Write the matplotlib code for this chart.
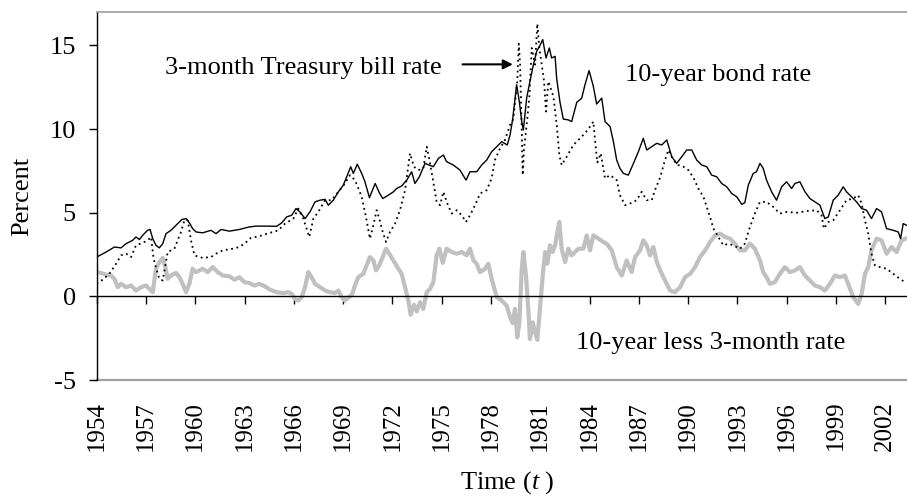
import matplotlib
matplotlib.use("Agg")
import matplotlib.pyplot as plt
import matplotlib.transforms as mtransforms

plt.rcParams["font.family"] = ["Liberation Serif", "DejaVu Serif"]
plt.rcParams["mathtext.fontset"] = "custom"
plt.rcParams["mathtext.rm"] = "Liberation Serif"
plt.rcParams["mathtext.it"] = "Liberation Serif:italic"

# ---- data (x = position on the time axis) ----
bond_year = [1954.0, 1954.57, 1955.08, 1955.48, 1955.79, 1956.19, 1956.39, 1956.6, 1956.8, 1957.1,
             1957.25, 1957.41, 1957.61, 1957.81, 1958.02, 1958.22, 1958.52, 1958.83, 1959.19, 1959.44,
             1959.64, 1959.84, 1960.05, 1960.45, 1960.96, 1961.26, 1961.57, 1962.08, 1962.68, 1963.29,
             1963.7, 1964.31, 1964.95, 1965.26, 1965.56, 1965.87, 1966.13, 1966.37, 1966.68, 1966.98,
             1967.29, 1967.59, 1967.9, 1968.1, 1968.4, 1968.71, 1969.01, 1969.26, 1969.46, 1969.62,
             1969.86, 1970.13, 1970.33, 1970.6, 1970.95, 1971.2, 1971.41, 1971.75, 1972.06, 1972.26,
             1972.56, 1972.87, 1973.17, 1973.37, 1973.64, 1973.98, 1974.49, 1974.8, 1975.1, 1975.3,
             1975.71, 1976.11, 1976.48, 1976.72, 1977.13, 1977.43, 1977.74, 1978.04, 1978.35, 1978.65,
             1978.99, 1979.16, 1979.32, 1979.56, 1979.73, 1979.87, 1979.97, 1980.17, 1980.37, 1980.58,
             1980.78, 1980.98, 1981.15, 1981.35, 1981.55, 1981.69, 1981.9, 1982.0, 1982.2, 1982.4,
             1982.71, 1982.91, 1983.22, 1983.52, 1983.72, 1983.97, 1984.23, 1984.43, 1984.74, 1984.94,
             1985.25, 1985.45, 1985.65, 1985.85, 1986.06, 1986.36, 1986.67, 1986.97, 1987.27, 1987.48,
             1987.78, 1988.09, 1988.39, 1988.7, 1989.0, 1989.3, 1989.61, 1989.91, 1990.22, 1990.52,
             1990.83, 1991.13, 1991.43, 1991.74, 1992.04, 1992.35, 1992.65, 1992.96, 1993.26, 1993.45,
             1993.66, 1993.96, 1994.16, 1994.37, 1994.57, 1994.77, 1995.08, 1995.38, 1995.69, 1995.99,
             1996.3, 1996.5, 1996.8, 1997.11, 1997.41, 1997.71, 1998.02, 1998.32, 1998.53, 1998.83,
             1999.13, 1999.44, 1999.64, 1999.95, 2000.25, 2000.56, 2000.86, 2001.16, 2001.47, 2001.77,
             2002.08, 2002.48, 2002.79, 2002.93, 2003.09, 2003.29]
bond = [2.35, 2.65, 2.95, 2.9, 3.15, 3.35, 3.55, 3.4, 3.65, 3.95,
        4.0, 3.45, 3.05, 2.9, 3.15, 3.75, 3.95, 4.25, 4.6, 4.65,
        4.4, 4.05, 3.85, 3.8, 3.95, 3.75, 4.0, 3.9, 4.0, 4.15,
        4.2, 4.2, 4.19, 4.39, 4.75, 4.85, 5.25, 5.05, 4.65, 5.05,
        5.65, 5.75, 5.8, 5.45, 5.75, 6.25, 6.65, 7.25, 7.75, 7.35,
        7.9, 7.35, 6.85, 5.9, 6.75, 6.2, 5.85, 6.05, 6.25, 6.45,
        6.6, 6.95, 7.45, 6.75, 7.15, 7.95, 7.75, 8.25, 8.45, 8.05,
        7.85, 7.55, 6.95, 7.45, 7.45, 7.85, 8.15, 8.65, 8.95, 9.25,
        9.05, 9.65, 10.6, 12.65, 11.6, 10.45, 9.95, 11.85, 12.85, 13.85,
        14.65, 15.0, 15.35, 14.25, 14.85, 14.25, 14.35, 13.0, 11.6, 10.6,
        10.55, 10.45, 11.6, 11.85, 12.65, 13.5, 12.55, 11.5, 11.85, 10.45,
        10.15, 9.25, 8.15, 7.65, 7.35, 7.25, 7.95, 8.65, 9.45, 8.75,
        8.95, 9.15, 9.05, 9.35, 8.35, 7.95, 8.35, 8.75, 8.75, 8.15,
        7.85, 7.75, 7.25, 7.15, 6.75, 6.55, 6.15, 5.95, 5.5, 5.6,
        6.65, 7.35, 7.45, 7.95, 7.65, 6.95, 6.25, 5.75, 6.55, 6.85,
        6.45, 6.75, 6.85, 6.25, 5.85, 5.65, 5.45, 4.65, 4.75, 5.75,
        6.05, 6.55, 6.25, 5.95, 5.65, 5.25, 5.15, 4.65, 5.25, 5.05,
        4.05, 3.95, 3.85, 3.45, 4.35, 4.25]

bill_year = [1954.0, 1954.37, 1954.77, 1955.18, 1955.48, 1955.79, 1956.09, 1956.39, 1956.8, 1957.1,
             1957.31, 1957.45, 1957.57, 1957.81, 1958.02, 1958.32, 1958.73, 1959.13, 1959.34, 1959.54,
             1959.74, 1959.95, 1960.45, 1960.96, 1961.26, 1961.67, 1962.28, 1962.68, 1962.99, 1963.39,
             1963.9, 1964.55, 1965.06, 1965.46, 1965.97, 1966.27, 1966.58, 1966.78, 1966.94, 1967.19,
             1967.49, 1967.9, 1968.3, 1968.71, 1969.11, 1969.42, 1969.72, 1970.13, 1970.39, 1970.63,
             1970.84, 1971.04, 1971.2, 1971.41, 1971.61, 1971.85, 1972.16, 1972.46, 1972.77, 1973.07,
             1973.31, 1973.58, 1973.88, 1974.09, 1974.29, 1974.49, 1974.69, 1974.9, 1975.1, 1975.3,
             1975.61, 1975.91, 1976.22, 1976.48, 1976.72, 1977.03, 1977.33, 1977.74, 1978.04, 1978.24,
             1978.55, 1978.85, 1979.16, 1979.36, 1979.6, 1979.69, 1979.77, 1979.87, 1979.93, 1980.01,
             1980.17, 1980.33, 1980.48, 1980.68, 1980.82, 1980.94, 1981.09, 1981.23, 1981.35, 1981.49,
             1981.63, 1981.8, 1982.0, 1982.16, 1982.3, 1982.61, 1983.01, 1983.32, 1983.72, 1984.03,
             1984.23, 1984.33, 1984.47, 1984.68, 1984.94, 1985.25, 1985.45, 1985.65, 1985.85, 1986.16,
             1986.46, 1986.87, 1987.17, 1987.48, 1987.78, 1987.98, 1988.29, 1988.59, 1988.8, 1989.1,
             1989.4, 1989.71, 1990.01, 1990.32, 1990.62, 1990.93, 1991.13, 1991.33, 1991.54, 1991.84,
             1992.14, 1992.45, 1992.75, 1993.16, 1993.45, 1993.76, 1994.06, 1994.37, 1994.77, 1995.18,
             1995.58, 1995.99, 1996.6, 1997.21, 1997.82, 1998.12, 1998.26, 1998.53, 1998.83, 1999.24,
             1999.64, 2000.05, 2000.35, 2000.56, 2000.76, 2000.96, 2001.16, 2001.37, 2001.67, 2002.08,
             2002.48, 2002.89, 2003.19]
bill = [0.75, 1.0, 1.35, 1.95, 2.45, 2.55, 2.35, 3.05, 3.2, 3.35,
        3.55, 2.35, 1.85, 1.05, 0.95, 2.65, 2.85, 3.85, 4.55, 4.55,
        3.35, 2.45, 2.3, 2.35, 2.55, 2.75, 2.85, 2.95, 3.15, 3.5,
        3.6, 3.8, 3.95, 4.35, 4.65, 5.25, 4.65, 4.05, 3.55, 4.65,
        5.05, 5.75, 5.75, 6.25, 6.75, 7.25, 6.95, 5.95, 4.75, 3.45,
        4.25, 5.15, 4.65, 3.85, 3.25, 3.85, 4.35, 5.15, 6.35, 8.55,
        7.75, 7.55, 7.65, 8.95, 7.95, 6.85, 5.65, 5.45, 6.25, 5.65,
        4.95, 5.15, 4.85, 4.45, 4.85, 5.45, 6.15, 6.35, 7.05, 8.15,
        8.85, 9.35, 10.25, 10.6, 12.85, 15.1, 13.85, 10.05, 7.25, 8.85,
        10.25, 11.85, 14.85, 13.85, 16.3, 14.85, 13.85, 12.85, 11.05, 12.85,
        12.45, 11.95, 10.25, 8.45, 7.85, 8.35, 9.05, 9.35, 9.75, 10.15,
        10.45, 9.35, 8.0, 8.55, 7.05, 7.25, 7.1, 6.95, 6.05, 5.45,
        5.55, 5.75, 6.25, 5.75, 5.75, 6.35, 7.1, 8.15, 8.75, 8.15,
        7.85, 7.75, 7.55, 7.1, 6.45, 5.95, 5.35, 4.75, 4.05, 3.55,
        3.05, 3.15, 3.05, 2.85, 3.15, 4.15, 4.95, 5.65, 5.65, 5.35,
        4.95, 5.05, 5.0, 5.1, 5.15, 4.85, 4.05, 4.45, 4.55, 5.15,
        5.75, 5.85, 6.05, 5.55, 4.55, 3.75, 2.55, 1.85, 1.75, 1.65,
        1.35, 1.05, 0.85]

spread_year = [1954.0, 1954.26, 1954.57, 1954.87, 1955.08, 1955.28, 1955.48, 1955.79, 1956.09, 1956.39,
               1956.7, 1957.0, 1957.2, 1957.41, 1957.61, 1957.81, 1958.02, 1958.18, 1958.32, 1958.52,
               1958.83, 1959.03, 1959.23, 1959.44, 1959.64, 1959.84, 1960.05, 1960.45, 1960.76, 1961.06,
               1961.37, 1961.67, 1962.08, 1962.38, 1962.68, 1962.99, 1963.29, 1963.6, 1963.9, 1964.24,
               1964.55, 1964.95, 1965.36, 1965.66, 1965.87, 1966.07, 1966.27, 1966.48, 1966.68, 1966.88,
               1967.08, 1967.29, 1967.59, 1967.9, 1968.2, 1968.5, 1968.71, 1968.91, 1969.11, 1969.32,
               1969.52, 1969.72, 1969.92, 1970.23, 1970.43, 1970.63, 1970.84, 1971.0, 1971.2, 1971.41,
               1971.61, 1971.81, 1972.06, 1972.3, 1972.56, 1972.77, 1972.97, 1973.11, 1973.31, 1973.48,
               1973.68, 1973.88, 1974.09, 1974.29, 1974.49, 1974.69, 1974.86, 1975.06, 1975.3, 1975.61,
               1975.91, 1976.22, 1976.52, 1976.72, 1976.93, 1977.13, 1977.33, 1977.64, 1977.84, 1978.04,
               1978.35, 1978.65, 1978.95, 1979.16, 1979.32, 1979.46, 1979.6, 1979.73, 1979.87, 1979.97,
               1980.13, 1980.27, 1980.37, 1980.54, 1980.68, 1980.82, 1980.98, 1981.15, 1981.29, 1981.43,
               1981.59, 1981.75, 1981.9, 1982.04, 1982.16, 1982.3, 1982.51, 1982.71, 1982.91, 1983.11,
               1983.32, 1983.62, 1983.83, 1984.03, 1984.23, 1984.54, 1984.84, 1985.04, 1985.35, 1985.65,
               1985.96, 1986.26, 1986.56, 1986.77, 1987.07, 1987.27, 1987.48, 1987.68, 1987.88, 1988.09,
               1988.39, 1988.7, 1988.9, 1989.2, 1989.51, 1989.81, 1990.12, 1990.42, 1990.72, 1991.03,
               1991.33, 1991.64, 1991.94, 1992.25, 1992.55, 1992.85, 1993.16, 1993.45, 1993.76, 1994.06,
               1994.37, 1994.57, 1994.77, 1994.98, 1995.28, 1995.58, 1995.89, 1996.19, 1996.5, 1996.8,
               1997.11, 1997.41, 1997.71, 1998.02, 1998.32, 1998.63, 1998.93, 1999.24, 1999.54, 1999.85,
               2000.05, 2000.35, 2000.56, 2000.76, 2000.96, 2001.16, 2001.47, 2001.77, 2002.08, 2002.38,
               2002.69, 2002.99, 2003.23]
spread = [1.45, 1.4, 1.3, 1.25, 1.05, 0.55, 0.75, 0.55, 0.65, 0.35,
          0.55, 0.65, 0.45, 0.25, 1.65, 2.05, 2.3, 1.75, 1.05, 1.25,
          1.4, 1.15, 0.75, 0.25, 0.75, 1.65, 1.45, 1.65, 1.45, 1.75,
          1.45, 1.25, 1.2, 1.0, 1.15, 0.85, 0.8, 0.65, 0.75, 0.6,
          0.4, 0.25, 0.2, 0.25, 0.15, -0.15, -0.25, -0.05, 0.55, 1.45,
          1.15, 0.75, 0.55, 0.35, 0.25, 0.2, 0.35, -0.05, -0.25, -0.05,
          0.05, 0.65, 1.15, 1.35, 1.85, 2.35, 2.15, 1.55, 1.85, 2.35,
          2.85, 2.55, 2.15, 1.75, 1.35, 0.55, -0.25, -1.1, -0.5, -0.9,
          -0.35, -0.75, 0.25, 0.45, 0.85, 2.45, 2.85, 2.0, 2.85, 2.65,
          2.55, 2.65, 2.45, 2.85, 2.15, 1.95, 1.45, 1.65, 1.95, 1.05,
          -0.05, -0.25, -0.55, -1.25, -1.6, -0.75, -2.45, -1.55, 1.65, 2.65,
          1.25, -0.75, -2.55, -1.55, -2.15, -2.6, -0.75, 1.25, 2.65, 1.95,
          3.05, 2.65, 3.05, 3.85, 4.45, 2.85, 2.05, 2.85, 2.45, 2.65,
          2.85, 2.85, 3.65, 2.75, 3.65, 3.45, 3.25, 3.15, 2.75, 1.75,
          1.25, 2.15, 1.45, 2.35, 2.75, 3.35, 3.05, 2.45, 2.95, 2.05,
          1.35, 0.75, 0.35, 0.25, 0.55, 1.15, 1.35, 1.75, 2.35, 2.75,
          3.25, 3.65, 3.75, 3.55, 3.45, 3.15, 2.75, 2.75, 3.15, 2.85,
          2.15, 1.45, 1.15, 0.75, 0.85, 1.35, 1.75, 1.45, 1.55, 1.75,
          1.25, 0.95, 0.65, 0.55, 0.35, 0.75, 1.25, 1.15, 1.25, 0.45,
          -0.05, -0.45, 0.15, 1.35, 1.75, 2.75, 3.45, 3.35, 2.55, 2.95,
          2.65, 3.35, 3.45]

tick_years = list(range(1954, 2003, 3))
y_ticks = [-5, 0, 5, 10, 15]

fig = plt.figure(figsize=(9.07, 4.98), dpi=100)
ax = fig.add_axes([0.1066, 0.2369, 0.8934, 0.7390])

ax.plot(spread_year, spread, color="#c0c0c0", lw=3.0, solid_joinstyle="round", zorder=2)
ax.plot(bill_year, bill, color="black", lw=1.3, linestyle=(0, (1, 2)), zorder=3)
ax.plot(bond_year, bond, color="black", lw=1.0, zorder=4)

ax.set_xlim(1954, 2003.32)
ax.set_ylim(-5, 17)

# frame: black left axis, grey top/bottom, x axis drawn at zero
ax.spines["right"].set_visible(False)
ax.spines["top"].set_color("#a0a0a0")
ax.spines["top"].set_linewidth(1.2)
ax.spines["left"].set_linewidth(1.0)
ax.spines["bottom"].set_position(("data", 0))
ax.spines["bottom"].set_linewidth(1.0)
ax.axhline(-5, color="#a0a0a0", lw=1.6, clip_on=False, zorder=1)

ax.set_xticks(tick_years)
ax.tick_params(axis="x", direction="out", length=6, width=1, labelbottom=False)
ax.set_yticks(y_ticks)
ax.set_yticklabels([str(v) for v in y_ticks])
ax.tick_params(axis="y", direction="out", length=6, width=1, pad=9, labelsize=19)

trans = mtransforms.blended_transform_factory(ax.transData, ax.transAxes)
for yr in tick_years:
    ax.annotate(str(yr), xy=(yr, 0), xycoords=trans, xytext=(0, -15),
                textcoords="offset points", rotation=90, ha="center", va="top",
                fontsize=18)

ax.text(1958.16, 13.3, "3-month Treasury bill rate", fontsize=19, va="baseline", ha="left")
ax.annotate("", xy=(1979.5, 13.87), xytext=(1976.1, 13.87),
            arrowprops=dict(arrowstyle="-|>", color="black", lw=1.5, mutation_scale=14))
ax.text(1986.16, 12.87, "10-year bond rate", fontsize=19, va="baseline", ha="left")
ax.text(1983.17, -3.17, "10-year less 3-month rate", fontsize=19, va="baseline", ha="left")

fig.text(22 / 907, 1 - 196 / 498, "Percent", rotation=90, ha="center", va="center", fontsize=19)
fig.text(507 / 907, 1 - 483 / 498, r"Time ($t$ )", ha="center", va="center", fontsize=19)

fig.savefig("out.png", dpi=100)
